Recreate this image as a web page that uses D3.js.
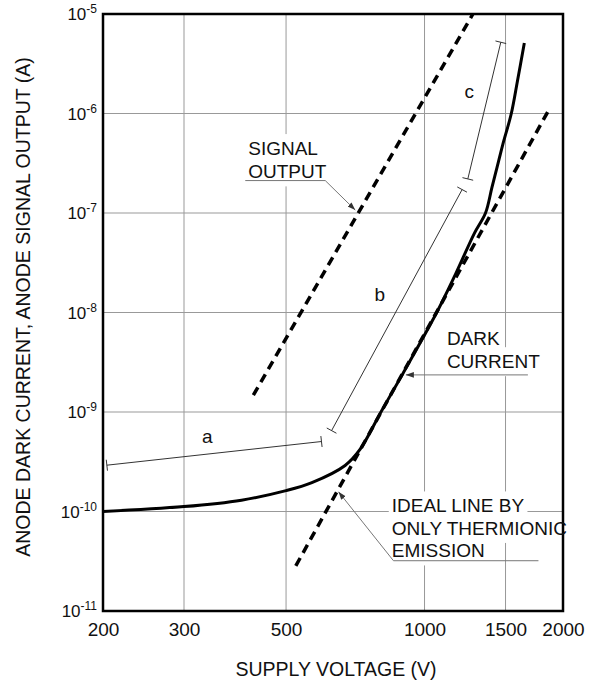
<!DOCTYPE html>
<html>
<head>
<meta charset="utf-8">
<script src="https://cdn.jsdelivr.net/npm/d3@7"></script>
<style>
  body { margin: 0; background: #fff; }
  text { font-family: "Liberation Sans", Arial, Helvetica, sans-serif; fill: #111; }
</style>
</head>
<body>
<div id="chart"></div>
<script>
// tick values
const voltTicks = [200, 300, 500, 1000, 1500, 2000];
const currExps = [-5, -6, -7, -8, -9, -10, -11];

// dark current curve (V, A)
const darkV = [200, 300, 400, 500, 569, 672, 724, 804, 897, 1063, 1168, 1284, 1357, 1401, 1438, 1479, 1544, 1593, 1648];
const darkI = [1e-10, 1.12e-10, 1.3e-10, 1.62e-10, 1.95e-10, 2.9e-10, 4.2e-10, 1e-9, 2.43e-9, 1e-8, 2.43e-8, 6.28e-8, 1e-7, 1.8e-7, 2.89e-7, 4.85e-7, 1e-6, 2.15e-6, 5.1e-6];

// straight dashed lines
const signalV = [424.5, 1274];
const signalI = [1.48e-9, 1e-5];
const idealV = [525, 1874];
const idealI = [2.84e-11, 1.14e-6];

// range bars a, b, c
const rangeNames = ["a", "b", "c"];
const rangeV = [[203.9, 597], [628, 1207], [1242, 1465]];
const rangeI = [[2.92e-10, 5.05e-10], [6.5e-10, 1.72e-7], [2.2e-7, 5.2e-6]];

// callouts: text and the point the arrow touches
const noteText = [["SIGNAL", "OUTPUT"], ["DARK", "CURRENT"], ["IDEAL LINE BY", "ONLY THERMIONIC", "EMISSION"]];
const noteV = [707, 911, 650];
const noteI = [1.07e-7, 2.36e-9, 1.58e-10];

var W = 590, H = 685;
var pL = 103, pR = 563, pT = 14, pB = 611;

var svg = d3.select("#chart").append("svg")
  .attr("width", W).attr("height", H);

var x = d3.scaleLog().domain([200, 2000]).range([pL, pR]);
var y = d3.scaleLog().domain([1e-11, 1e-5]).range([pB, pT]);

// grid
var grid = svg.append("g");
grid.selectAll("line.v")
  .data(voltTicks.slice(1, -1))
  .enter().append("line")
  .attr("x1", d => x(d)).attr("x2", d => x(d))
  .attr("y1", pT).attr("y2", pB)
  .attr("stroke", "#999").attr("stroke-width", 1);
grid.selectAll("line.h")
  .data(currExps.slice(1, -1))
  .enter().append("line")
  .attr("x1", pL).attr("x2", pR)
  .attr("y1", d => y(Math.pow(10, d))).attr("y2", d => y(Math.pow(10, d)))
  .attr("stroke", "#999").attr("stroke-width", 1);

var boxLayer = svg.append("g");

// frame
svg.append("rect")
  .attr("x", pL).attr("y", pT)
  .attr("width", pR - pL).attr("height", pB - pT)
  .attr("fill", "none").attr("stroke", "#000").attr("stroke-width", 2.5);

// x tick labels
svg.append("g")
  .attr("transform", "translate(0," + pB + ")")
  .call(d3.axisBottom(x).tickValues(voltTicks).tickSize(0).tickFormat(d3.format("d")))
  .call(g => g.select(".domain").remove())
  .selectAll("text")
  .attr("y", 25).attr("dy", 0)
  .style("font-size", "19px")
  .style("font-family", "'Liberation Sans', Arial, sans-serif")
  .attr("fill", "#111");

// y tick labels with superscript exponent
var yl = svg.append("g").selectAll("text")
  .data(currExps)
  .enter().append("text")
  .attr("x", 97)
  .attr("y", d => y(Math.pow(10, d)) + 6)
  .attr("text-anchor", "end");
yl.append("tspan").style("font-size", "17px").text("10");
yl.append("tspan").style("font-size", "12px").attr("dy", -7).text(d => String(d));

// axis titles
svg.append("text")
  .attr("x", 336).attr("y", 676)
  .attr("text-anchor", "middle")
  .style("font-size", "19.5px")
  .text("SUPPLY VOLTAGE (V)");
svg.append("text")
  .attr("transform", "translate(29.5,307) rotate(-90)")
  .attr("text-anchor", "middle")
  .style("font-size", "19.5px")
  .text("ANODE DARK CURRENT, ANODE SIGNAL OUTPUT (A)");

// curves
var line = d3.line().x(d => x(d[0])).y(d => y(d[1]));

svg.append("path")
  .datum(darkV.map((v, i) => [v, darkI[i]]))
  .attr("d", line.curve(d3.curveCatmullRom.alpha(0.5)))
  .attr("fill", "none").attr("stroke", "#000").attr("stroke-width", 3);

var straight = d3.line().x(d => x(d[0])).y(d => y(d[1]));
[[signalV, signalI], [idealV, idealI]].forEach(function(s) {
  svg.append("path")
    .datum(s[0].map((v, i) => [v, s[1][i]]))
    .attr("d", straight)
    .attr("fill", "none").attr("stroke", "#000")
    .attr("stroke-width", 3.5).attr("stroke-dasharray", "9,6");
});

// range bars
var labelOff = [[-7, -10], [-17, -9], [-15, -13]];
rangeNames.forEach(function(name, i) {
  var x0 = x(rangeV[i][0]), y0 = y(rangeI[i][0]);
  var x1 = x(rangeV[i][1]), y1 = y(rangeI[i][1]);
  var len = Math.hypot(x1 - x0, y1 - y0);
  var nx = -(y1 - y0) / len * 5.5, ny = (x1 - x0) / len * 5.5;
  var g = svg.append("g").attr("stroke", "#333").attr("stroke-width", 1);
  g.append("line").attr("x1", x0).attr("y1", y0).attr("x2", x1).attr("y2", y1);
  g.append("line").attr("x1", x0 - nx).attr("y1", y0 - ny).attr("x2", x0 + nx).attr("y2", y0 + ny);
  g.append("line").attr("x1", x1 - nx).attr("y1", y1 - ny).attr("x2", x1 + nx).attr("y2", y1 + ny);
  svg.append("text")
    .attr("x", (x0 + x1) / 2 + labelOff[i][0])
    .attr("y", (y0 + y1) / 2 + labelOff[i][1])
    .attr("text-anchor", "middle")
    .style("font-size", "19px")
    .text(name);
});

// callouts
svg.append("defs").append("marker")
  .attr("id", "arr")
  .attr("viewBox", "0 0 10 10")
  .attr("refX", 10).attr("refY", 5)
  .attr("markerWidth", 8).attr("markerHeight", 8)
  .attr("markerUnits", "userSpaceOnUse")
  .attr("orient", "auto-start-reverse")
  .append("path").attr("d", "M0,1.5L10,5L0,8.5z").attr("fill", "#333");

var leaderPts = [
  [[0, 0], [-30, -29.5], [-110, -29.5]],
  [[0, 0], [122, 0]],
  [[0, 0], [55, 69], [200, 69]]
];
var textPos = [[-107, -55, 23.3], [41, -30, 23.3], [53.3, 20.7, 22.5]];

noteText.forEach(function(lines, i) {
  var tx = x(noteV[i]), ty = y(noteI[i]);
  svg.append("path")
    .attr("d", d3.line()(leaderPts[i].map(p => [tx + p[0], ty + p[1]])))
    .attr("fill", "none").attr("stroke", "#777").attr("stroke-width", 1)
    .attr("marker-start", "url(#arr)");
  lines.forEach(function(s, j) {
    var t = svg.append("text")
      .attr("x", tx + textPos[i][0])
      .attr("y", ty + textPos[i][1] + j * textPos[i][2])
      .style("font-size", "19px")
      .text(s);
    var b = t.node().getBBox();
    boxLayer.append("rect")
      .attr("x", b.x - 3).attr("y", b.y - 4)
      .attr("width", b.width + 6).attr("height", b.height + 8)
      .attr("fill", "#fff");
  });
});
</script>
</body>
</html>
